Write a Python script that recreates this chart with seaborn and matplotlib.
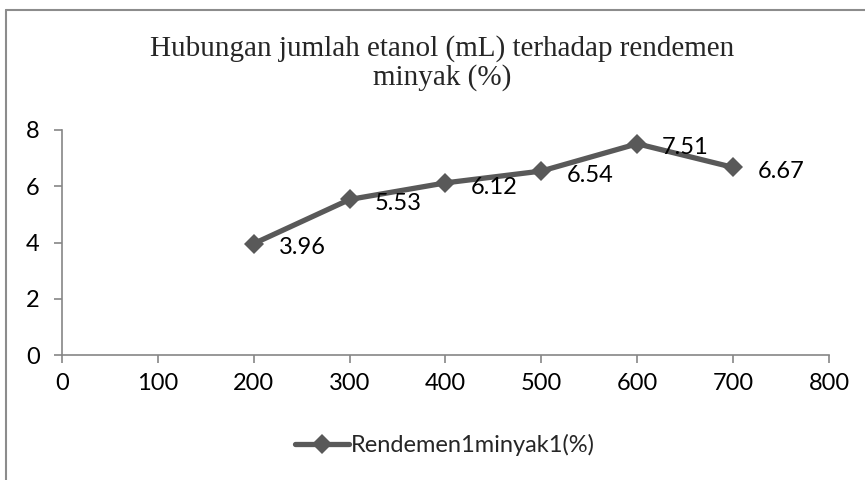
import matplotlib
matplotlib.use("Agg")
import matplotlib.pyplot as plt
import seaborn as sns
import pandas as pd
from matplotlib.lines import Line2D

# Data
etanol_ml = [200, 300, 400, 500, 600, 700]
rendemen = [3.96, 5.53, 6.12, 6.54, 7.51, 6.67]
x_ticks = [0, 100, 200, 300, 400, 500, 600, 700, 800]
y_ticks = [0, 2, 4, 6, 8]
title_text = "Hubungan jumlah etanol (mL) terhadap rendemen\nminyak (%)"
legend_label = "Rendemen1minyak1(%)"

df = pd.DataFrame({"etanol": etanol_ml, "rendemen": rendemen})

sns.set_theme(style="white")
plt.rcParams['font.family'] = ['Lato', 'DejaVu Sans']

W, H = 865, 480
fig = plt.figure(figsize=(W / 100, H / 100), dpi=100)
ax = fig.add_axes([62 / W, 1 - 355 / H, (829 - 62) / W, (355 - 130) / H])

line_color = "#595959"
axis_color = "#868686"

sns.lineplot(data=df, x="etanol", y="rendemen", ax=ax, color=line_color,
             linewidth=3.8, marker="D", markersize=10, markeredgewidth=0,
             markeredgecolor=line_color, legend=False)

for xv, yv in zip(etanol_ml, rendemen):
    ax.annotate(f"{yv:.2f}", xy=(xv, yv), xytext=(18, -3), textcoords="offset points",
                ha="left", va="center", fontsize=17, color="black")

ax.set_xlim(0, 800)
ax.set_ylim(0, 8)
ax.set_xticks(x_ticks)
ax.set_yticks(y_ticks)
ax.set_xlabel("")
ax.set_ylabel("")
for s in ["top", "right"]:
    ax.spines[s].set_visible(False)
for s in ["left", "bottom"]:
    ax.spines[s].set_color(axis_color)
    ax.spines[s].set_linewidth(1.2)
ax.tick_params(axis="both", which="major", direction="out", length=6, width=1.2,
               color=axis_color, labelsize=17, labelcolor="black",
               left=True, bottom=True)
ax.tick_params(axis="x", pad=7)
ax.tick_params(axis="y", pad=10)
ax.grid(False)
ax.set_facecolor("none")

fig.text(442 / W, 1 - 63 / H, title_text, ha="center", va="center",
         fontsize=21, family=["Liberation Serif", "DejaVu Serif"], linespacing=1.1)

# Chart border (left and top edges)
fig.add_artist(Line2D([6 / W, 6 / W], [0, 1 - 10 / H], transform=fig.transFigure,
                      color="#8c8c8c", linewidth=1.5))
fig.add_artist(Line2D([6 / W, 1], [1 - 10 / H, 1 - 10 / H], transform=fig.transFigure,
                      color="#8c8c8c", linewidth=1.5))

handle = Line2D([], [], color=line_color, linewidth=3.8, marker="D", markersize=10,
                markeredgewidth=0)
fig.legend([handle], [legend_label], loc="center", bbox_to_anchor=(445 / W, 1 - 445 / H),
           frameon=False, fontsize=17, handlelength=2.3, handletextpad=0.1)

fig.savefig("out.png", dpi=100)
